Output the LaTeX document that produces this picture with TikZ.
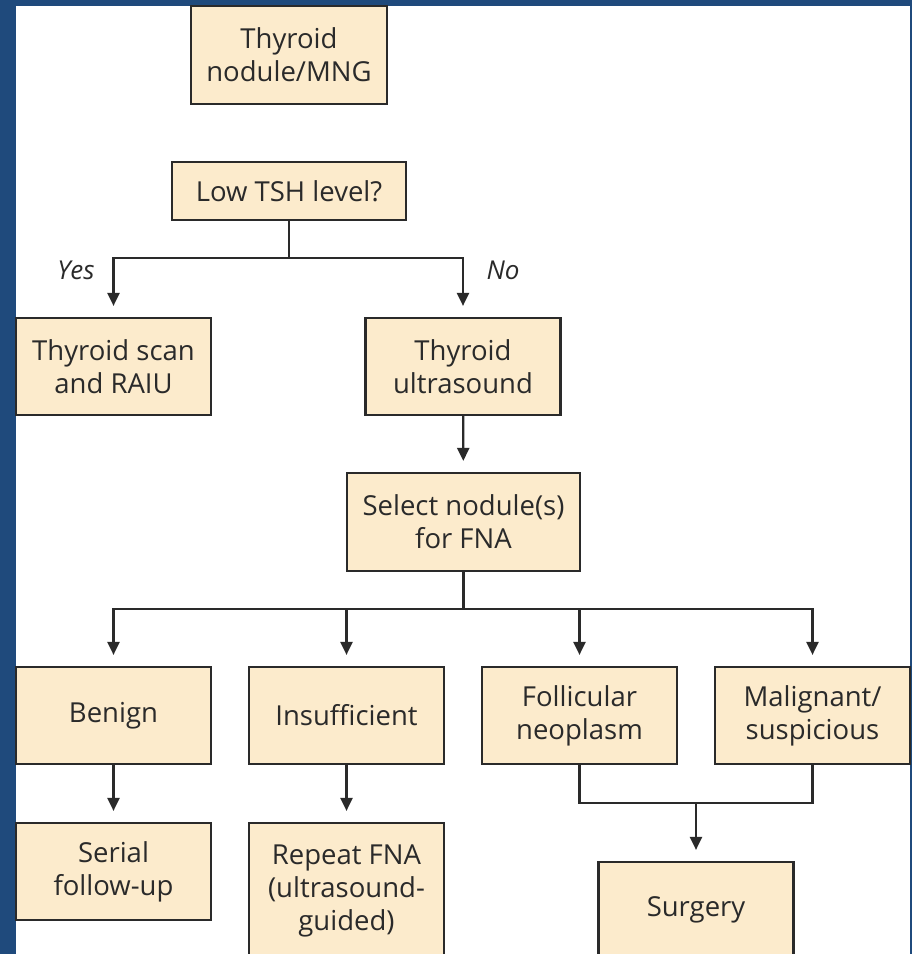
\documentclass[tikz,border=0pt]{standalone}
\usepackage{fontspec}
\setmainfont{Open Sans}
\usetikzlibrary{arrows.meta}
\definecolor{frameblue}{HTML}{1F4A7C}
\definecolor{boxfill}{HTML}{FCEBCC}
\definecolor{ink}{HTML}{2A2A2A}
\begin{document}
\begin{tikzpicture}[x=1pt,y=-1pt]
	\tikzset{box/.style={draw=ink, line width=2.2pt, fill=boxfill, text=ink, align=center, minimum width=195pt, minimum height=97pt, inner sep=0pt, font=\fontsize{27.5}{33}\selectfont},
		flow_line/.style={draw=ink, line width=2.2pt},
		flow_arrow/.style={flow_line, -{Triangle[width=12pt,length=13pt]}, shorten >=11pt},
		answer/.style={text=ink, font=\fontsize{26}{30}\selectfont\itshape}}
	\useasboundingbox (0,0) rectangle (912,954);
	\fill[frameblue] (0,0) rectangle (912,954);
	\fill[white] (16,6) rectangle (910,954);
	\clip (0,0) rectangle (912,954);
	\node[box, minimum width=196pt, minimum height=98pt] (mng) at (289,55) {Thyroid\\nodule/MNG};
	\node[box, minimum width=234pt, minimum height=58pt] (tsh) at (289,191) {Low TSH level?};
	\node[box] (scan) at (113.5,366.5) {Thyroid scan\\and RAIU};
	\node[box] (us) at (463,366.5) {Thyroid\\ultrasound};
	\node[box, minimum width=233pt, minimum height=98pt] (fna) at (463.5,522) {Select nodule(s)\\for FNA};
	\node[box] (benign) at (113.5,715.5) {Benign};
	\node[box] (insuff) at (346.5,715.5) {Insufficient};
	\node[box] (foll) at (579.5,715.5) {Follicular\\neoplasm};
	\node[box] (malig) at (812.5,715.5) {Malignant/\\suspicious};
	\node[box] (serial) at (113.5,871.5) {Serial\\follow-up};
	\node[box, minimum height=136pt] (repeat) at (346.5,891) {Repeat FNA\\(ultrasound-\\guided)};
	\node[box, minimum height=96pt] (surgery) at (696,910) {Surgery};
	\node[answer] (yes) at (76,270) {Yes};
	\node[answer] (no) at (503,270) {No};
	\coordinate (tsh_split) at (289,258);
	\draw[flow_line] (tsh) -- (tsh_split);
	\draw[flow_arrow] (tsh_split) -| (scan);
	\draw[flow_arrow] (tsh_split) -| (us);
	\draw[flow_arrow] (us) -- (fna);
	\coordinate (fna_split) at (463.5,609);
	\draw[flow_line] (fna) -- (fna_split);
	\foreach \result in {benign,insuff,foll,malig}
		\draw[flow_arrow] (fna_split) -| (\result);
	\draw[flow_arrow] (benign) -- (serial);
	\draw[flow_arrow] (insuff) -- (repeat);
	\coordinate (surg_join) at (696,803);
	\draw[flow_line] (foll) |- (surg_join);
	\draw[flow_line] (malig) |- (surg_join);
	\draw[flow_arrow] (surg_join) -- (surgery);
\end{tikzpicture}
\end{document}
